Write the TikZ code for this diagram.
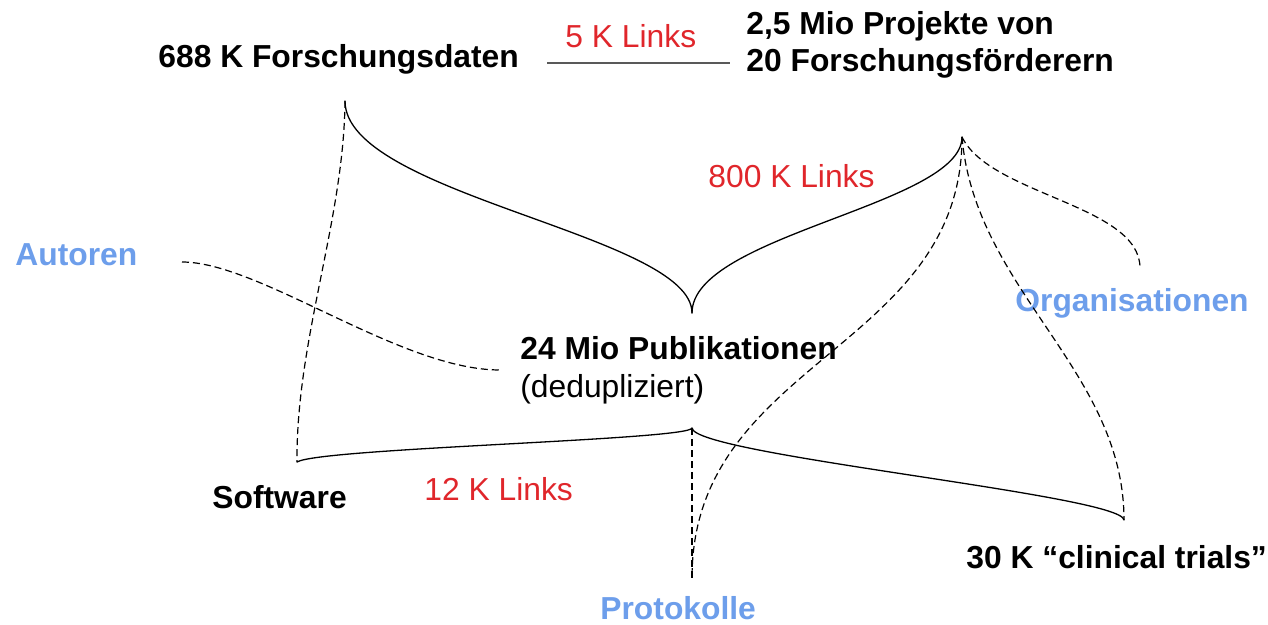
\documentclass[tikz,border=0pt]{standalone}
\usepackage{fontspec}
\setmainfont{Liberation Sans}
\definecolor{linkred}{HTML}{E0262B}
\definecolor{entityblue}{HTML}{6D9EEB}
\begin{document}
\begin{tikzpicture}[
            x=0.5pt, y=-0.5pt,
            every node/.style={inner sep=0pt, font=\fontsize{15.9}{18}\selectfont},
            entity/.style={anchor=base west, font=\fontsize{15.9}{18}\selectfont\bfseries},
            sub entity/.style={anchor=base west},
            other entity/.style={entity, text=entityblue},
            link label/.style={anchor=base west, text=linkred},
            brace/.style={line width=0.65pt, line cap=round}, % solid bracket curves
            dashed link/.style={line width=0.6pt, dash pattern=on 3.5pt off 2pt},
            gray link/.style={line width=1pt, draw=black!65}
    ]
        \useasboundingbox (0,0) rectangle (1268,625);

        % Entities
        \node[entity] (daten) at (158,68) {688 K Forschungsdaten};
        \node[entity] (projekte1) at (746,35) {2,5 Mio Projekte von};
        \node[entity] (projekte2) at (746,72) {20 Forschungsförderern};
        \node[entity] (publ) at (520,360) {24 Mio Publikationen};
        \node[sub entity] (dedup) at (520,398) {(dedupliziert)};
        \node[entity] (software) at (212,508) {Software};
        \node[entity] (trials) at (966,568) {30 K “clinical trials”};

        % Other entities
        \node[other entity] (autoren) at (15,266) {Autoren};
        \node[other entity] (orga) at (1015,312) {Organisationen};
        \node[other entity] (protokolle) at (600,619) {Protokolle};

        % Link counts
        \node[link label] (links5) at (565,48) {5 K Links};
        \node[link label] (links800) at (708,188) {800 K Links};
        \node[link label] (links12) at (424,500) {12 K Links};

        % Curve ends
        \coordinate (daten_end) at (345,101);
        \coordinate (proj_end) at (962,137);
        \coordinate (publ_top) at (692,313);
        \coordinate (publ_bot) at (692,428);
        \coordinate (soft_end) at (297,462);
        \coordinate (trials_end) at (1124,520);
        \coordinate (prot_end) at (692,578);
        \coordinate (autor_end) at (182,262);
        \coordinate (autor_publ) at (500,370);
        \coordinate (orga_end) at (1140,268);
        \coordinate (l5_a) at (547,63);
        \coordinate (l5_b) at (730,63);

        % Solid links
        \draw[gray link] (l5_a) -- (l5_b);
        \draw[brace] (daten_end) .. controls (345,195) and (692,235) .. (publ_top);
        \draw[brace] (publ_top) .. controls (692,235) and (962,205) .. (proj_end);
        \draw[brace] (soft_end) .. controls (320,448) and (690,440) .. (publ_bot);
        \draw[brace] (publ_bot) .. controls (694,455) and (1122,495) .. (trials_end);

        % Dashed links
        \draw[dashed link] (daten_end) .. controls (344,220) and (296,340) .. (soft_end);
        \draw[dashed link] (autor_end) .. controls (260,262) and (400,370) .. (autor_publ);
        \draw[dashed link] (proj_end) .. controls (990,195) and (1140,205) .. (orga_end);
        \draw[dashed link] (proj_end) .. controls (962,350) and (692,360) .. (prot_end);
        \draw[dashed link] (proj_end) .. controls (975,290) and (1124,370) .. (trials_end);
        \draw[dashed link] (publ_bot) -- (prot_end);

    \end{tikzpicture}
\end{document}
